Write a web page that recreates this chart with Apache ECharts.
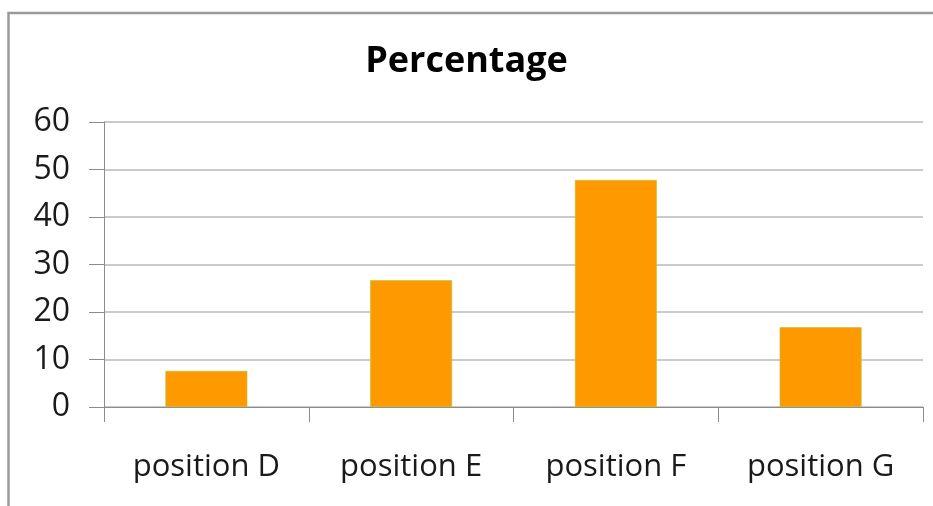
<!DOCTYPE html>
<html>
<head>
<meta charset="utf-8">
<script src="https://cdn.jsdelivr.net/npm/echarts@6/dist/echarts.min.js"></script>
<style>
  html, body { margin: 0; padding: 0; background: #fff; }
  #chart { width: 933px; height: 506px; }
</style>
</head>
<body>
<div id="chart"></div>
<script>
var categories = ['position D', 'position E', 'position F', 'position G'];
var percentage = [7.6, 26.7, 47.8, 16.8];
var yTicks = [0, 10, 20, 30, 40, 50, 60];

var dom = document.getElementById('chart');
var myChart = echarts.init(dom);
var font = 'Open Sans, Liberation Sans, sans-serif';

var option = {
    animation: false,
    title: {
        text: 'Percentage',
        left: 'center',
        top: 39,
        textStyle: { fontFamily: font, fontSize: 36, fontWeight: 'bold', color: '#000' }
    },
    graphic: [{
        type: 'rect',
        shape: { x: 8.5, y: 13, width: 940, height: 520 },
        style: { fill: 'none', stroke: '#9a9a9a', lineWidth: 2.5 }
    }],
    grid: { left: 104, right: 10, top: 122, bottom: 99 },
    xAxis: {
        type: 'category',
        data: categories,
        axisLine: { lineStyle: { color: '#8c8c8c', width: 1 } },
        axisTick: { show: true, length: 15, lineStyle: { color: '#8c8c8c' } },
        axisLabel: { margin: 45, fontFamily: font, fontSize: 31, color: '#1a1a1a' }
    },
    yAxis: {
        type: 'value',
        min: yTicks[0],
        max: yTicks[yTicks.length - 1],
        interval: 10,
        axisLine: { show: true, lineStyle: { color: '#8c8c8c', width: 1 } },
        axisTick: { show: true, length: 15, lineStyle: { color: '#8c8c8c' } },
        axisLabel: { margin: 34, fontFamily: font, fontSize: 32, color: '#1a1a1a' },
        splitLine: { lineStyle: { color: '#b8b8b8', width: 1.5 } }
    },
    series: [{
        name: 'Percentage',
        type: 'bar',
        data: percentage,
        barCategoryGap: '60%',
        itemStyle: { color: '#ff9900', borderColor: '#b9c23a', borderWidth: 0.6 }
    }]
};
myChart.setOption(option, true);
</script>
</body>
</html>
